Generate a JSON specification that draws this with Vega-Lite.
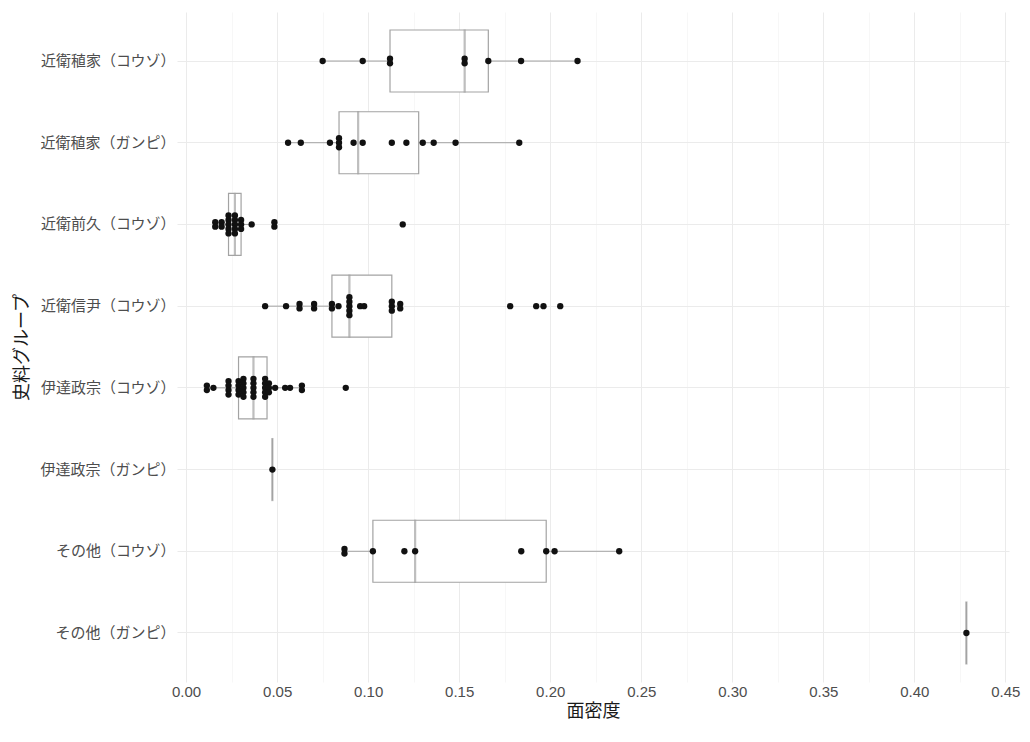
{
  "$schema": "https://vega.github.io/schema/vega-lite/v6.json",
  "width": 832,
  "height": 670,
  "autosize": {"type": "none"},
  "padding": {"left": 177, "top": 12, "right": 21, "bottom": 60},
  "background": "white",
  "config": {"view": {"stroke": null}, "font": "Noto Sans CJK JP"},
  "data": {"values": [
    {"group": "近衛稙家（コウゾ）", "v": 0.075},
    {"group": "近衛稙家（コウゾ）", "v": 0.097},
    {"group": "近衛稙家（コウゾ）", "v": 0.112},
    {"group": "近衛稙家（コウゾ）", "v": 0.112},
    {"group": "近衛稙家（コウゾ）", "v": 0.153},
    {"group": "近衛稙家（コウゾ）", "v": 0.153},
    {"group": "近衛稙家（コウゾ）", "v": 0.166},
    {"group": "近衛稙家（コウゾ）", "v": 0.184},
    {"group": "近衛稙家（コウゾ）", "v": 0.215},
    {"group": "近衛稙家（ガンピ）", "v": 0.056},
    {"group": "近衛稙家（ガンピ）", "v": 0.063},
    {"group": "近衛稙家（ガンピ）", "v": 0.079},
    {"group": "近衛稙家（ガンピ）", "v": 0.084},
    {"group": "近衛稙家（ガンピ）", "v": 0.084},
    {"group": "近衛稙家（ガンピ）", "v": 0.084},
    {"group": "近衛稙家（ガンピ）", "v": 0.092},
    {"group": "近衛稙家（ガンピ）", "v": 0.097},
    {"group": "近衛稙家（ガンピ）", "v": 0.113},
    {"group": "近衛稙家（ガンピ）", "v": 0.121},
    {"group": "近衛稙家（ガンピ）", "v": 0.130},
    {"group": "近衛稙家（ガンピ）", "v": 0.136},
    {"group": "近衛稙家（ガンピ）", "v": 0.148},
    {"group": "近衛稙家（ガンピ）", "v": 0.183},
    {"group": "近衛前久（コウゾ）", "v": 0.016},
    {"group": "近衛前久（コウゾ）", "v": 0.016},
    {"group": "近衛前久（コウゾ）", "v": 0.0195},
    {"group": "近衛前久（コウゾ）", "v": 0.0195},
    {"group": "近衛前久（コウゾ）", "v": 0.0233},
    {"group": "近衛前久（コウゾ）", "v": 0.0233},
    {"group": "近衛前久（コウゾ）", "v": 0.0233},
    {"group": "近衛前久（コウゾ）", "v": 0.0233},
    {"group": "近衛前久（コウゾ）", "v": 0.0233},
    {"group": "近衛前久（コウゾ）", "v": 0.0268},
    {"group": "近衛前久（コウゾ）", "v": 0.0268},
    {"group": "近衛前久（コウゾ）", "v": 0.0268},
    {"group": "近衛前久（コウゾ）", "v": 0.0268},
    {"group": "近衛前久（コウゾ）", "v": 0.0268},
    {"group": "近衛前久（コウゾ）", "v": 0.0302},
    {"group": "近衛前久（コウゾ）", "v": 0.0302},
    {"group": "近衛前久（コウゾ）", "v": 0.0302},
    {"group": "近衛前久（コウゾ）", "v": 0.036},
    {"group": "近衛前久（コウゾ）", "v": 0.0485},
    {"group": "近衛前久（コウゾ）", "v": 0.0485},
    {"group": "近衛前久（コウゾ）", "v": 0.119},
    {"group": "近衛信尹（コウゾ）", "v": 0.0434},
    {"group": "近衛信尹（コウゾ）", "v": 0.0549},
    {"group": "近衛信尹（コウゾ）", "v": 0.0623},
    {"group": "近衛信尹（コウゾ）", "v": 0.0623},
    {"group": "近衛信尹（コウゾ）", "v": 0.0703},
    {"group": "近衛信尹（コウゾ）", "v": 0.0703},
    {"group": "近衛信尹（コウゾ）", "v": 0.0801},
    {"group": "近衛信尹（コウゾ）", "v": 0.0801},
    {"group": "近衛信尹（コウゾ）", "v": 0.0837},
    {"group": "近衛信尹（コウゾ）", "v": 0.0897},
    {"group": "近衛信尹（コウゾ）", "v": 0.0897},
    {"group": "近衛信尹（コウゾ）", "v": 0.0897},
    {"group": "近衛信尹（コウゾ）", "v": 0.0897},
    {"group": "近衛信尹（コウゾ）", "v": 0.0897},
    {"group": "近衛信尹（コウゾ）", "v": 0.0956},
    {"group": "近衛信尹（コウゾ）", "v": 0.0978},
    {"group": "近衛信尹（コウゾ）", "v": 0.113},
    {"group": "近衛信尹（コウゾ）", "v": 0.113},
    {"group": "近衛信尹（コウゾ）", "v": 0.113},
    {"group": "近衛信尹（コウゾ）", "v": 0.1176},
    {"group": "近衛信尹（コウゾ）", "v": 0.1176},
    {"group": "近衛信尹（コウゾ）", "v": 0.178},
    {"group": "近衛信尹（コウゾ）", "v": 0.1923},
    {"group": "近衛信尹（コウゾ）", "v": 0.1963},
    {"group": "近衛信尹（コウゾ）", "v": 0.2055},
    {"group": "伊達政宗（コウゾ）", "v": 0.0114},
    {"group": "伊達政宗（コウゾ）", "v": 0.0114},
    {"group": "伊達政宗（コウゾ）", "v": 0.015},
    {"group": "伊達政宗（コウゾ）", "v": 0.0233},
    {"group": "伊達政宗（コウゾ）", "v": 0.0233},
    {"group": "伊達政宗（コウゾ）", "v": 0.0233},
    {"group": "伊達政宗（コウゾ）", "v": 0.0233},
    {"group": "伊達政宗（コウゾ）", "v": 0.0288},
    {"group": "伊達政宗（コウゾ）", "v": 0.0288},
    {"group": "伊達政宗（コウゾ）", "v": 0.0288},
    {"group": "伊達政宗（コウゾ）", "v": 0.0288},
    {"group": "伊達政宗（コウゾ）", "v": 0.0315},
    {"group": "伊達政宗（コウゾ）", "v": 0.0315},
    {"group": "伊達政宗（コウゾ）", "v": 0.0315},
    {"group": "伊達政宗（コウゾ）", "v": 0.0315},
    {"group": "伊達政宗（コウゾ）", "v": 0.0315},
    {"group": "伊達政宗（コウゾ）", "v": 0.037},
    {"group": "伊達政宗（コウゾ）", "v": 0.037},
    {"group": "伊達政宗（コウゾ）", "v": 0.037},
    {"group": "伊達政宗（コウゾ）", "v": 0.037},
    {"group": "伊達政宗（コウゾ）", "v": 0.037},
    {"group": "伊達政宗（コウゾ）", "v": 0.0434},
    {"group": "伊達政宗（コウゾ）", "v": 0.0434},
    {"group": "伊達政宗（コウゾ）", "v": 0.0434},
    {"group": "伊達政宗（コウゾ）", "v": 0.0434},
    {"group": "伊達政宗（コウゾ）", "v": 0.0434},
    {"group": "伊達政宗（コウゾ）", "v": 0.0455},
    {"group": "伊達政宗（コウゾ）", "v": 0.0455},
    {"group": "伊達政宗（コウゾ）", "v": 0.0455},
    {"group": "伊達政宗（コウゾ）", "v": 0.0489},
    {"group": "伊達政宗（コウゾ）", "v": 0.0544},
    {"group": "伊達政宗（コウゾ）", "v": 0.0571},
    {"group": "伊達政宗（コウゾ）", "v": 0.0636},
    {"group": "伊達政宗（コウゾ）", "v": 0.0636},
    {"group": "伊達政宗（コウゾ）", "v": 0.0877},
    {"group": "伊達政宗（ガンピ）", "v": 0.0474},
    {"group": "その他（コウゾ）", "v": 0.087},
    {"group": "その他（コウゾ）", "v": 0.087},
    {"group": "その他（コウゾ）", "v": 0.1026},
    {"group": "その他（コウゾ）", "v": 0.1199},
    {"group": "その他（コウゾ）", "v": 0.1258},
    {"group": "その他（コウゾ）", "v": 0.1841},
    {"group": "その他（コウゾ）", "v": 0.1978},
    {"group": "その他（コウゾ）", "v": 0.2024},
    {"group": "その他（コウゾ）", "v": 0.2379},
    {"group": "その他（ガンピ）", "v": 0.4286}
  ]},
  "encoding": {
    "y": {
      "field": "group",
      "type": "nominal",
      "sort": ["近衛稙家（コウゾ）", "近衛稙家（ガンピ）", "近衛前久（コウゾ）", "近衛信尹（コウゾ）", "伊達政宗（コウゾ）", "伊達政宗（ガンピ）", "その他（コウゾ）", "その他（ガンピ）"],
      "scale": {"paddingInner": 0, "paddingOuter": 0.1},
      "axis": {
        "title": "史料グループ",
        "titleFontSize": 18,
        "titleFontWeight": "normal",
        "titleColor": "#1a1a1a",
        "titlePadding": 8,
        "labelFontSize": 15,
        "labelColor": "#4d4d4d",
        "labelPadding": 2,
        "ticks": false,
        "domain": false,
        "grid": true,
        "gridColor": "#ebebeb",
        "gridWidth": 1,
        "bandPosition": 0.5
      }
    }
  },
  "resolve": {"axis": {"x": "independent"}},
  "layer": [
    {
      "mark": {
        "type": "boxplot",
        "extent": 1.5,
        "outliers": false,
        "size": 62,
        "ticks": false,
        "color": "#a3a3a3",
        "box": {"fill": "white", "stroke": "#a3a3a3", "color": "#a3a3a3", "strokeWidth": 1.2},
        "median": {"color": "#a3a3a3", "fill": "#a3a3a3", "stroke": "#a3a3a3", "strokeWidth": 1.2},
        "rule": {"color": "#a3a3a3", "stroke": "#a3a3a3", "strokeWidth": 1}
      },
      "encoding": {
        "x": {
          "field": "v",
          "type": "quantitative",
          "scale": {"domain": [-0.005, 0.452], "nice": false, "zero": false},
          "axis": {
            "orient": "top",
            "values": [0.025, 0.075, 0.125, 0.175, 0.225, 0.275, 0.325, 0.375, 0.425],
            "labels": false,
            "ticks": false,
            "domain": false,
            "title": null,
            "grid": true,
            "gridColor": "#f2f2f2",
            "gridWidth": 0.6
          }
        }
      }
    },
    {
      "transform": [
        {"window": [{"op": "row_number", "as": "r"}, {"op": "count", "as": "n"}], "groupby": ["group", "v"], "frame": [null, null]},
        {"calculate": "datum.r - (datum.n + 1) / 2", "as": "stackPos"}
      ],
      "mark": {"type": "circle", "size": 40, "color": "#111111", "opacity": 1},
      "encoding": {
        "x": {
          "field": "v",
          "type": "quantitative",
          "scale": {"domain": [-0.005, 0.452], "nice": false, "zero": false},
          "axis": {
            "values": [0, 0.05, 0.1, 0.15, 0.2, 0.25, 0.3, 0.35, 0.4, 0.45],
            "format": ".2f",
            "title": "面密度",
            "titleFontSize": 18,
            "titleFontWeight": "normal",
            "titleColor": "#1a1a1a",
            "titlePadding": 3,
            "labelFont": "Liberation Sans",
            "labelFontSize": 15,
            "labelColor": "#4d4d4d",
            "labelPadding": 2,
            "ticks": false,
            "domain": false,
            "grid": true,
            "gridColor": "#ebebeb",
            "gridWidth": 1
          }
        },
        "yOffset": {"field": "stackPos", "type": "quantitative", "scale": {"domain": [-9.1, 9.1]}}
      }
    }
  ]
}
